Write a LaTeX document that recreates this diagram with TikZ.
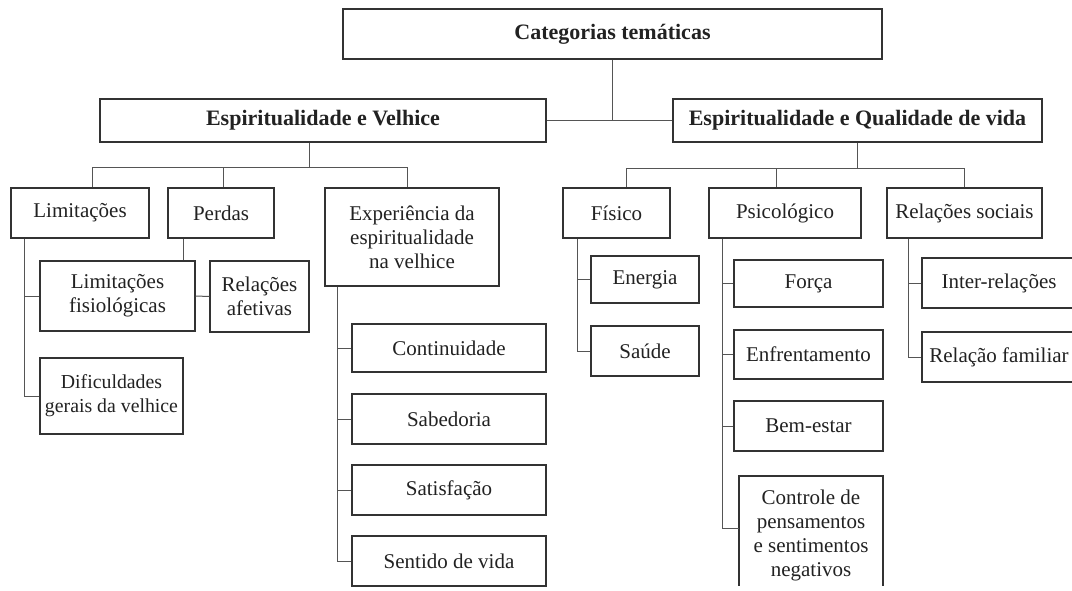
\documentclass[tikz,border=0pt]{standalone}
\usepackage{fontspec}
\setmainfont{Liberation Serif}
\definecolor{ink}{HTML}{222222}
\definecolor{edge}{HTML}{333333}
\definecolor{wire}{HTML}{555555}
\tikzset{
  box/.style={draw=edge, line width=1.1pt, rectangle, inner sep=0pt, align=center, text=ink,
    font=\fontsize{21}{24}\selectfont},
  boldbox/.style={box, font=\fontsize{22}{24}\selectfont\bfseries},
  narrowbox/.style={box, font=\fontsize{19.8}{24}\selectfont},
  conn/.style={draw=wire, line width=1pt},
}
\newcommand\bx[7][box]{\node[#1, minimum width={#5-#3}, minimum height={#6-#4}] (#2) at ({(#3+#5)/2},{(#4+#6)/2}) {#7};}
\begin{document}
\begin{tikzpicture}[x=1pt,y=-1pt]
\useasboundingbox[fill=white] (0,0) rectangle (1072,591);
% top levels
\bx[boldbox]{cat}{343}{9}{882}{59}{Categorias temáticas}
\bx[boldbox]{ev}{100}{99}{546}{142}{Espiritualidade e Velhice}
\bx[boldbox]{eqv}{673}{99}{1042}{142}{Espiritualidade e Qualidade de vida}
% left branch
\bx{lim}{11}{188}{149}{238}{Limitações}
\bx{per}{168}{188}{274}{238}{Perdas}
\bx{exp}{325}{188}{499}{286}{Experiência da\\espiritualidade\\na velhice}
\bx{limfis}{40}{261}{195}{331}{Limitações\\fisiológicas}
\bx{relaf}{210}{261}{309}{332}{Relações\\afetivas}
\bx[narrowbox]{dif}{40}{358}{183}{434}{Dificuldades\\gerais da velhice}
\bx{cont}{352}{324}{546}{372}{Continuidade}
\bx{sab}{352}{394}{546}{444}{Sabedoria}
\bx{sat}{352}{465}{546}{515}{Satisfação}
\bx{sen}{352}{536}{546}{586}{Sentido de vida}
% right branch
\bx{fis}{563}{188}{670}{238}{Físico}
\bx{psi}{709}{188}{861}{238}{Psicológico}
\bx{rs}{887}{188}{1042}{238}{Relações sociais}
\bx{ene}{591}{256}{699}{303}{Energia}
\bx{sau}{591}{326}{699}{376}{Saúde}
\bx{for}{734}{260}{883}{307}{Força}
\bx{enf}{734}{330}{883}{379}{Enfrentamento}
\bx{bem}{734}{401}{883}{451}{Bem-estar}
\begin{scope}
\clip (0,0) rectangle (1072,585);
\bx{con}{739}{476}{883}{594}{Controle de\\pensamentos\\e sentimentos\\negativos}
\end{scope}
\bx{int}{922}{258}{1076}{308}{Inter-relações}
\bx{rfam}{922}{332}{1076}{382}{Relação familiar}
% connectors: top
\draw[conn] (cat.south) -- (cat.south |- ev.east);
\draw[conn] (ev.east) -- (eqv.west);
% EV bus
\coordinate (evb) at (309,168);
\coordinate (evbL) at (92,168);
\coordinate (evbM) at (223,168);
\coordinate (evbR) at (407,168);
\draw[conn] (evb |- ev.south) -- (evb);
\draw[conn] (evbL |- lim.north) -- (evbL) -- (evbR) -- (evbR |- exp.north);
\draw[conn] (evbM) -- (evbM |- per.north);
% Limitacoes spine
\coordinate (ls) at (24,0);
\draw[conn] (ls |- lim.south) |- (dif.west);
\draw[conn] (ls |- limfis.west) -- (limfis.west);
% Perdas
\coordinate (ps) at (183,0);
\draw[conn] (ps |- per.south) -- (ps |- limfis.north);
\draw[conn] (limfis.east) -- (relaf.west);
% Experiencia spine
\coordinate (es) at (337,0);
\draw[conn] (es |- exp.south) |- (sen.west);
\draw[conn] (es |- cont.west) -- (cont.west);
\draw[conn] (es |- sab.west) -- (sab.west);
\draw[conn] (es |- sat.west) -- (sat.west);
% EQV bus
\coordinate (qbL) at (626,169);
\coordinate (qbM) at (776,169);
\coordinate (qbR) at (964,169);
\draw[conn] (eqv.south) -- (eqv.south |- qbL);
\draw[conn] (qbL |- fis.north) -- (qbL) -- (qbR) -- (qbR |- rs.north);
\draw[conn] (qbM) -- (qbM |- psi.north);
% Fisico spine
\coordinate (fs) at (577,0);
\draw[conn] (fs |- fis.south) |- (sau.west);
\draw[conn] (fs |- ene.west) -- (ene.west);
% Psicologico spine
\coordinate (pss) at (722,0);
\coordinate (conb) at (739,528);
\draw[conn] (pss |- psi.south) |- (conb);
\draw[conn] (pss |- for.west) -- (for.west);
\draw[conn] (pss |- enf.west) -- (enf.west);
\draw[conn] (pss |- bem.west) -- (bem.west);
% Relacoes sociais spine
\coordinate (rss) at (908,0);
\draw[conn] (rss |- rs.south) |- (rfam.west);
\draw[conn] (rss |- int.west) -- (int.west);
\end{tikzpicture}
\end{document}
